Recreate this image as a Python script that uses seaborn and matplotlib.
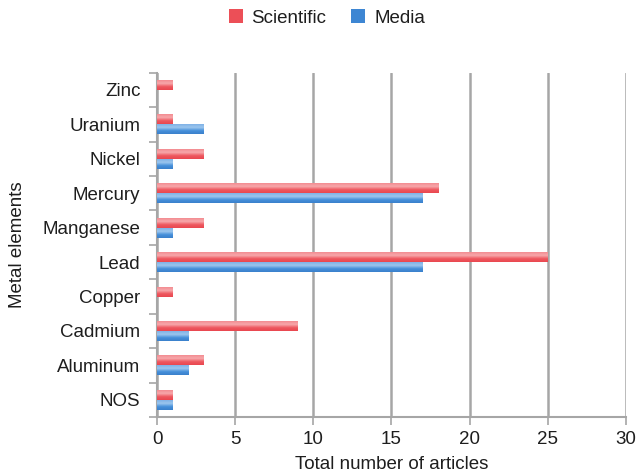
import numpy as np
import pandas as pd
import matplotlib
matplotlib.use("Agg")
import matplotlib.pyplot as plt
from matplotlib.colors import LinearSegmentedColormap
from matplotlib.lines import Line2D
import seaborn as sns

metals = ["Zinc", "Uranium", "Nickel", "Mercury", "Manganese",
          "Lead", "Copper", "Cadmium", "Aluminum", "NOS"]
scientific = [1, 1, 3, 18, 3, 25, 1, 9, 3, 1]
media = [0, 3, 1, 17, 1, 17, 0, 2, 2, 1]
series = ["Scientific", "Media"]
x_ticks = [0, 5, 10, 15, 20, 25, 30]

df = pd.DataFrame({
    "metal": metals * 2,
    "count": scientific + media,
    "source": [series[0]] * len(metals) + [series[1]] * len(metals),
})

sns.set_theme(style="white")
plt.rcParams["font.family"] = ["Liberation Sans", "DejaVu Sans"]

FS = 13.5
TXT = "#1E1E1E"
GRID = "#A6A6A6"
red = "#EC4F57"
blue = "#3D86D3"
palette = {"Scientific": red, "Media": blue}
shades = {
    red: ["#F38C91", "#F7A8AB", "#EE5860", "#E9474F"],
    blue: ["#7FB2E6", "#9CC6EE", "#4690DA", "#3A80CC"],
}

fig = plt.figure(figsize=(6.36, 4.75), dpi=100)
ax = fig.add_axes([0.247, 0.122, 0.737, 0.725])

sns.barplot(data=df, y="metal", x="count", hue="source", order=metals,
            hue_order=series, palette=palette, width=0.58, orient="h",
            saturation=1, legend=False, ax=ax, zorder=3, linewidth=0)

# glossy vertical shading on each bar
grad = np.linspace(0, 1, 64).reshape(-1, 1)
for patch, base in zip(ax.patches, [red] * len(metals) + [blue] * len(metals)):
    w = patch.get_width()
    if w <= 0:
        continue
    x0, y0 = patch.get_x(), patch.get_y()
    h = patch.get_height()
    cmap = LinearSegmentedColormap.from_list("g", shades[base])
    im = ax.imshow(grad, aspect="auto", cmap=cmap,
                   extent=(x0, x0 + w, y0 + h, y0), zorder=4,
                   interpolation="bilinear")
    im.set_clip_path(patch)

ax.set_xlim(0, 30)
ax.set_ylim(len(metals) - 0.5, -0.5)
ax.set_xticks(x_ticks)
ax.set_xticklabels([str(t) for t in x_ticks], fontsize=FS, color=TXT)
ax.tick_params(axis="y", labelsize=FS, labelcolor=TXT, length=0, pad=12)
ax.set_yticks(np.arange(-0.5, len(metals), 1.0), minor=True)
ax.tick_params(axis="y", which="minor", length=6, width=1.2, color=GRID,
               left=True)
ax.tick_params(axis="x", length=6, width=1.2, color=GRID, bottom=True,
               pad=4)

ax.grid(axis="x", color=GRID, linewidth=1.8, zorder=0)
ax.grid(axis="y", visible=False)
for side in ["top", "right"]:
    ax.spines[side].set_visible(False)
for side in ["left", "bottom"]:
    ax.spines[side].set_color(GRID)
    ax.spines[side].set_linewidth(1.5)

ax.set_xlabel("Total number of articles", fontsize=FS, color=TXT)
ax.set_ylabel("Metal elements", fontsize=FS, color=TXT)
ax.xaxis.set_label_coords(0.5, -0.112)
ax.yaxis.set_label_coords(-0.28, 0.5)

handles = [Line2D([], [], marker="s", linestyle="", markersize=10,
                  markerfacecolor=palette[s], markeredgewidth=0)
           for s in series]
fig.legend(handles, series, loc="center", bbox_to_anchor=(0.512, 0.962),
           ncol=2, frameon=False, fontsize=FS, columnspacing=1.2,
           handletextpad=0.35, handlelength=1.0, labelcolor=TXT)

fig.savefig("out.png", dpi=100)
